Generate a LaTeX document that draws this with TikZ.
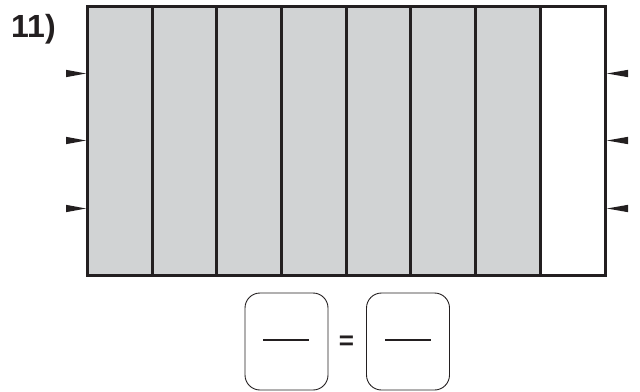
\documentclass[tikz,border=0pt]{standalone}
\usepackage{fontspec}
\setmainfont{Liberation Sans}
\definecolor{ink}{HTML}{231F20}
\definecolor{shade}{HTML}{D1D3D4}
\tikzset{
  cell/.style={draw=ink, line width=3pt, fill=shade},
  answerbox/.style={draw=ink, line width=0.9pt, rounded corners=15pt},
  bar/.style={draw=ink, line width=2.8pt},
  marker/.style={fill=ink, draw=none},
}
\begin{document}
\begin{tikzpicture}[x=1pt,y=-1pt]
\useasboundingbox (0,0) rectangle (640,391);
% columns
\foreach \i in {0,...,6} {
  \path[cell] ({87.5+\i*64.69},6.5) rectangle ({87.5+(\i+1)*64.69},275.5);
}
\path[cell, fill=white] ({87.5+7*64.69},6.5) rectangle (605,275.5);
\draw[draw=ink, line width=3pt] (87.5,6.5) rectangle (605,275.5);
% label
\node[anchor=base west, inner sep=0pt, font=\fontsize{32}{32}\selectfont\bfseries, text=ink] (lbl) at (11,37) {11)};
% markers
\foreach \y in {73.5,140.5,208.5} {
  \path[marker] (86,\y) -- (66,{\y-3.7}) -- (66,{\y+3.7}) -- cycle;
  \path[marker] (607,\y) -- (628,{\y-3.7}) -- (628,{\y+3.7}) -- cycle;
}
% answer boxes
\node[answerbox, minimum width=83pt, minimum height=97pt] (b1) at (286.5,341.5) {};
\node[answerbox, minimum width=83pt, minimum height=97pt] (b2) at (408,341.5) {};
\draw[bar] (263,340) -- (309,340);
\draw[bar] (385,340) -- (431,340);
\node[font=\fontsize{26}{26}\selectfont\bfseries, text=ink, inner sep=0pt] (eq) at (346.5,343) {=};
\end{tikzpicture}
\end{document}
